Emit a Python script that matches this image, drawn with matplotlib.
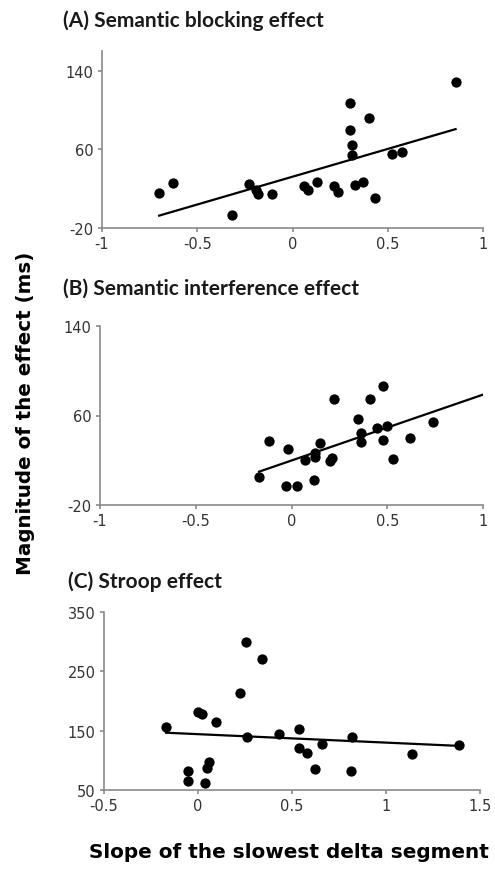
import numpy as np
import matplotlib
matplotlib.use("Agg")
import matplotlib.pyplot as plt

# (A) semantic blocking effect
a_x = [-0.70, -0.625, -0.32, -0.23, -0.19, -0.18, -0.11, 0.058, 0.079, 0.13,
       0.219, 0.241, 0.303, 0.303, 0.311, 0.311, 0.33, 0.371, 0.40, 0.432,
       0.523, 0.574, 0.856]
a_y = [16, 26, -7, 24.5, 19, 14.5, 14.5, 23, 19, 27,
       23, 16.5, 107, 80, 64, 54, 23.5, 27, 92, 10.5,
       55, 57, 128]

# (B) semantic interference effect
b_x = [-0.169, -0.118, -0.028, -0.019, 0.029, 0.069, 0.12, 0.123, 0.122, 0.149,
       0.20, 0.212, 0.221, 0.349, 0.362, 0.362, 0.41, 0.449, 0.48, 0.48,
       0.499, 0.53, 0.621, 0.739]
b_y = [5, 37, -3, 30, -3, 20, 2, 22.5, 26.5, 35,
       19, 22, 74.5, 57, 44.5, 36, 74.5, 48.5, 86, 38.5,
       51, 21.5, 40, 54]

# (C) Stroop effect
c_x = [-0.17, -0.051, -0.051, 0.002, 0.021, 0.039, 0.048, 0.059, 0.098, 0.222,
       0.257, 0.259, 0.34, 0.431, 0.539, 0.539, 0.582, 0.621, 0.662, 0.812,
       0.821, 1.138, 1.388]
c_y = [157, 81.5, 65, 181, 177.5, 61, 86.5, 97.5, 164, 214,
       299, 139, 270, 144, 153, 120, 112.5, 85, 127, 82.5,
       139, 111, 125]

panels = [
    ("(A) Semantic blocking effect", a_x, a_y, (-1, 1), [-1, -0.5, 0, 0.5, 1],
     ["-1", "-0.5", "0", "0.5", "1"], (-20, 160), [-20, 60, 140], None),
    ("(B) Semantic interference effect", b_x, b_y, (-1, 1), [-1, -0.5, 0, 0.5, 1],
     ["-1", "-0.5", "0", "0.5", "1"], (-20, 140), [-20, 60, 140], 1.0),
    ("(C) Stroop effect", c_x, c_y, (-0.5, 1.5), [-0.5, 0, 0.5, 1, 1.5],
     ["-0.5", "0", "0.5", "1", "1.5"], (50, 350), [50, 150, 250, 350], None),
]

# axes boxes in pixels: left, top, right, bottom
boxes = [(102, 52, 483, 229), (100, 327, 483, 506), (104, 613, 480, 791)]
title_pos = [(63, 21), (63, 289), (68, 582)]

W, H = 495, 870
fig = plt.figure(figsize=(W / 100, H / 100), dpi=100)

for (title, xs, ys, xl, xt, xtl, yl, yt, xend), (l, t, r, b), (tx, ty) in zip(panels, boxes, title_pos):
    ax = fig.add_axes([l / W, 1 - b / H, (r - l) / W, (b - t) / H])
    xs = np.array(xs)
    ys = np.array(ys)
    ax.scatter(xs, ys, s=55, color="black", zorder=3, linewidths=0)
    k, c0 = np.polyfit(xs, ys, 1)
    x1 = xs.max() if xend is None else xend
    lx = np.array([xs.min(), x1])
    ax.plot(lx, k * lx + c0, color="black", lw=1.6, zorder=2)
    ax.set_xlim(*xl)
    ax.set_ylim(*yl)
    ax.set_xticks(xt)
    ax.set_xticklabels(xtl)
    ax.set_yticks(yt)
    ax.set_yticklabels([str(v) for v in yt])
    for s in ["top", "right"]:
        ax.spines[s].set_visible(False)
    for s in ["left", "bottom"]:
        ax.spines[s].set_color("#8a8a8a")
        ax.spines[s].set_linewidth(1.2)
    ax.tick_params(direction="out", length=3, width=1.2, color="#8a8a8a",
                   labelsize=10.5, labelcolor="#333333", pad=3)
    ax.patch.set_alpha(0)
    fig.text(tx / W, 1 - ty / H, title, fontsize=15, fontweight="bold",
             family="Lato", va="center", ha="left", color="#1a1a1a")

fig.text(26 / W, 1 - 413 / H, "Magnitude of the effect (ms)", rotation=90,
         fontsize=14.3, fontweight="bold", va="center", ha="center")
fig.text(289 / W, 1 - 853 / H, "Slope of the slowest delta segment",
         fontsize=14.4, fontweight="bold", va="center", ha="center")

fig.savefig("out.png", dpi=100)
